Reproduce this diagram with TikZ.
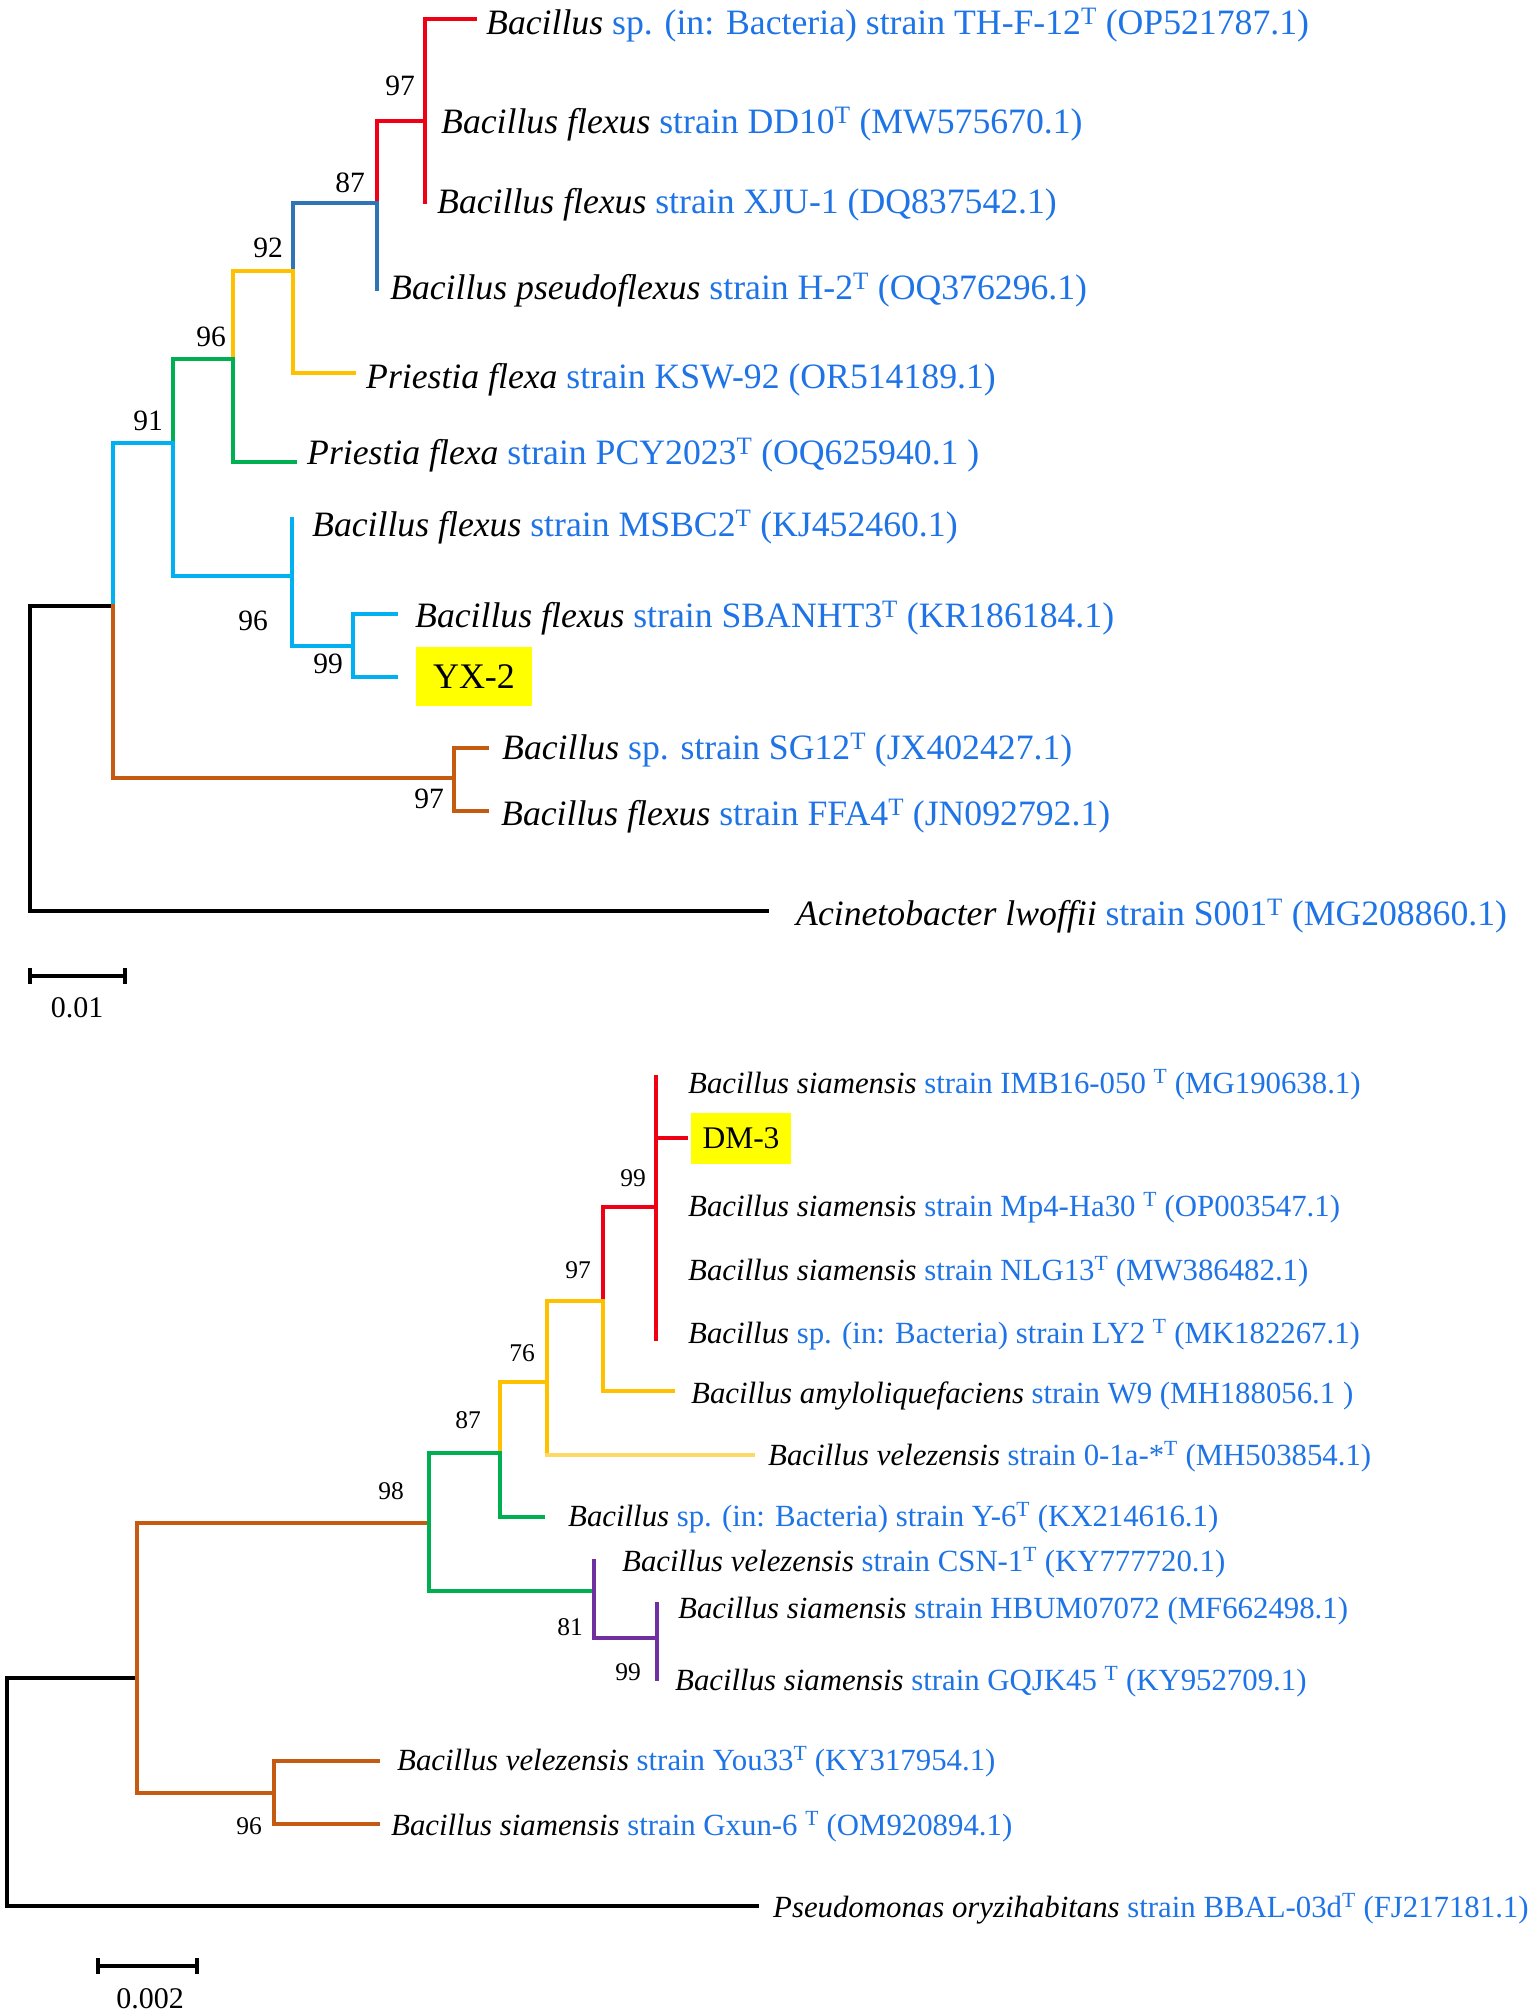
\documentclass[tikz,border=0pt]{standalone}
\usepackage{fontspec}
\setmainfont{Liberation Serif}
\definecolor{cRed}{RGB}{240,0,20}
\definecolor{cDBlue}{RGB}{46,117,182}
\definecolor{cGold}{RGB}{255,192,0}
\definecolor{cLGold}{RGB}{255,217,102}
\definecolor{cGreen}{RGB}{0,176,80}
\definecolor{cCyan}{RGB}{0,176,240}
\definecolor{cBrown}{RGB}{197,90,17}
\definecolor{cPurple}{RGB}{112,48,160}
\definecolor{tBlue}{RGB}{30,115,230}
\definecolor{hl}{RGB}{255,255,0}
\newcommand\tT{\textsuperscript{T}}
\newcommand\bl[1]{\textcolor{tBlue}{#1}}
\begin{document}
\begin{tikzpicture}[x=1pt,y=-1pt,
  br/.style={line width=3.2pt, line cap=rect},
  tlab/.style={anchor=base west, inner sep=0pt, font=\fontsize{35.7}{40}\selectfont},
  blab/.style={anchor=base west, inner sep=0pt, font=\fontsize{30.8}{36}\selectfont},
  tnum/.style={inner sep=0pt, font=\fontsize{29.5}{34}\selectfont},
  bnum/.style={inner sep=0pt, font=\fontsize{25.5}{30}\selectfont},
  hlbox/.style={fill=hl, inner sep=0pt},
  sbar/.style={line width=3.2pt}]
\useasboundingbox (0,0) rectangle (1535,2016);

% ---------------- TOP TREE ----------------
\coordinate (tRoot) at (30,758);
\coordinate (nA) at (113,606);
\coordinate (n91) at (173,443);
\coordinate (n96a) at (233,359);
\coordinate (n92) at (293,271);
\coordinate (n87) at (377,203);
\coordinate (n97) at (425,121);
\coordinate (lTH) at (475,19);
\coordinate (lXJU) at (425,202);
\coordinate (lPse) at (377,289);
\coordinate (lKSW) at (354,373);
\coordinate (lPCY) at (295,462);
\coordinate (n96b) at (292,576);
\coordinate (lMSB) at (292,519);
\coordinate (n99) at (353,646);
\coordinate (lSBA) at (396,614);
\coordinate (lYX) at (396,677);
\coordinate (n97o) at (454,778);
\coordinate (lSG) at (487,748);
\coordinate (lFFA) at (487,811);
\coordinate (lAcin) at (767,911);

\draw[br,black] (nA) -| (tRoot) |- (lAcin);
\draw[br,cCyan] (nA) |- (n91);
\draw[br,cBrown] (nA) |- (n97o);
\draw[br,cGreen] (n91) |- (n96a);
\draw[br,cCyan] (n91) |- (n96b);
\draw[br,cGold] (n96a) |- (n92);
\draw[br,cGreen] (n96a) |- (lPCY);
\draw[br,cDBlue] (n92) |- (n87);
\draw[br,cGold] (n92) |- (lKSW);
\draw[br,cRed] (n87) |- (n97);
\draw[br,cDBlue] (n87) -- (lPse);
\draw[br,cRed] (lTH) -| (n97) -- (lXJU);
\draw[br,cCyan] (lMSB) -- (n96b) |- (n99);
\draw[br,cCyan] (lSBA) -| (n99) |- (lYX);
\draw[br,cBrown] (lSG) -| (n97o) |- (lFFA);

\node[tlab] (tTH) at (486,34) {\textit{Bacillus} \bl{sp. (in: Bacteria) strain TH-F-12\tT{} (OP521787.1)}};
\node[tlab] (tDD) at (441,133) {\textit{Bacillus flexus} \bl{strain DD10\tT{} (MW575670.1)}};
\node[tlab] (tXJU) at (437,213) {\textit{Bacillus flexus} \bl{strain XJU-1 (DQ837542.1)}};
\node[tlab] (tPse) at (390,299) {\textit{Bacillus pseudoflexus} \bl{strain H-2\tT{} (OQ376296.1)}};
\node[tlab] (tKSW) at (366,388) {\textit{Priestia flexa} \bl{strain KSW-92 (OR514189.1)}};
\node[tlab] (tPCY) at (307,464) {\textit{Priestia flexa} \bl{strain PCY2023\tT{} (OQ625940.1 )}};
\node[tlab] (tMSB) at (312,536) {\textit{Bacillus flexus} \bl{strain MSBC2\tT{} (KJ452460.1)}};
\node[tlab] (tSBA) at (415,627) {\textit{Bacillus flexus} \bl{strain SBANHT3\tT{} (KR186184.1)}};
\node[hlbox, minimum width=116pt, minimum height=59pt, font=\fontsize{36}{40}\selectfont] (tYX) at (474,676.5) {YX-2};
\node[tlab] (tSG) at (502,759) {\textit{Bacillus} \bl{sp. strain SG12\tT{} (JX402427.1)}};
\node[tlab] (tFFA) at (501,825) {\textit{Bacillus flexus} \bl{strain FFA4\tT{} (JN092792.1)}};
\node[tlab] (tAcin) at (796,925) {\textit{Acinetobacter lwoffii} \bl{strain S001\tT{} (MG208860.1)}};

\node[tnum] (b97) at (400,86) {97};
\node[tnum] (b87) at (350,183) {87};
\node[tnum] (b92) at (268,248) {92};
\node[tnum] (b96a) at (211,337) {96};
\node[tnum] (b91) at (148,421) {91};
\node[tnum] (b96b) at (253,621) {96};
\node[tnum] (b99) at (328,664) {99};
\node[tnum] (b97o) at (429,799) {97};

% scale bar top
\coordinate (sa1) at (30,976);
\coordinate (sa2) at (125,976);
\draw[sbar] (sa1) -- (sa2);
\draw[sbar] ([yshift=-8pt]sa1) -- ([yshift=8pt]sa1);
\draw[sbar] ([yshift=-8pt]sa2) -- ([yshift=8pt]sa2);
\node[tnum, font=\fontsize{30}{34}\selectfont] (sal) at (77,1008) {0.01};

% ---------------- BOTTOM TREE ----------------
\coordinate (bRoot) at (7,1790);
\coordinate (nB) at (137,1678);
\coordinate (lPseu) at (757,1906);
\coordinate (n98) at (429,1523);
\coordinate (n96c) at (274,1793);
\coordinate (lYou) at (378,1761);
\coordinate (lGx) at (378,1824);
\coordinate (n87b) at (500,1453);
\coordinate (n81) at (594,1591);
\coordinate (n76) at (547,1382);
\coordinate (lY6) at (543,1517);
\coordinate (n97b) at (603,1301);
\coordinate (l01a) at (753,1455);
\coordinate (n99b) at (656,1207);
\coordinate (lW9) at (673,1391);
\coordinate (lIMB) at (656,1077);
\coordinate (lLY) at (656,1339);
\coordinate (lDM) at (686,1138);
\coordinate (lCSN) at (594,1561);
\coordinate (n99c) at (657,1638);
\coordinate (lHB) at (657,1604);
\coordinate (lGQ) at (657,1679);

\draw[br,black] (nB) -| (bRoot) |- (lPseu);
\draw[br,cBrown] (n98) -| (nB) |- (n96c);
\draw[br,cBrown] (lYou) -| (n96c) |- (lGx);
\draw[br,cGreen] (n87b) -| (n98) |- (n81);
\draw[br,cGold] (n87b) |- (n76);
\draw[br,cGreen] (n87b) |- (lY6);
\draw[br,cGold] (n76) |- (n97b);
\draw[br,cGold] (n76) -- (n76 |- l01a);
\draw[br,cLGold] (n76 |- l01a) -- (l01a);
\draw[br,cRed] (n97b) |- (n99b);
\draw[br,cGold] (n97b) |- (lW9);
\draw[br,cRed] (lIMB) -- (lLY);
\draw[br,cRed] (lIMB |- lDM) -- (lDM);
\draw[br,cPurple] (lCSN) -- (n81) |- (n99c);
\draw[br,cPurple] (lHB) -- (lGQ);

\node[blab] (tIMB) at (688,1093) {\textit{Bacillus siamensis} \bl{strain IMB16-050 \tT{} (MG190638.1)}};
\node[hlbox, minimum width=100pt, minimum height=51pt, font=\fontsize{31.5}{36}\selectfont] (tDM) at (741,1138.5) {DM-3};
\node[blab] (tMp4) at (688,1216) {\textit{Bacillus siamensis} \bl{strain Mp4-Ha30 \tT{} (OP003547.1)}};
\node[blab] (tNLG) at (688,1280) {\textit{Bacillus siamensis} \bl{strain NLG13\tT{} (MW386482.1)}};
\node[blab] (tLY) at (688,1343) {\textit{Bacillus} \bl{sp. (in: Bacteria) strain LY2 \tT{} (MK182267.1)}};
\node[blab] (tW9) at (691,1403) {\textit{Bacillus amyloliquefaciens} \bl{strain W9 (MH188056.1 )}};
\node[blab] (t01a) at (768,1465) {\textit{Bacillus velezensis} \bl{strain 0-1a-*\tT{} (MH503854.1)}};
\node[blab] (tY6) at (568,1526) {\textit{Bacillus} \bl{sp. (in: Bacteria) strain Y-6\tT{} (KX214616.1)}};
\node[blab] (tCSN) at (622,1571) {\textit{Bacillus velezensis} \bl{strain CSN-1\tT{} (KY777720.1)}};
\node[blab] (tHB) at (678,1618) {\textit{Bacillus siamensis} \bl{strain HBUM07072 (MF662498.1)}};
\node[blab] (tGQ) at (675,1690) {\textit{Bacillus siamensis} \bl{strain GQJK45 \tT{} (KY952709.1)}};
\node[blab] (tYou) at (397,1770) {\textit{Bacillus velezensis} \bl{strain You33\tT{} (KY317954.1)}};
\node[blab] (tGx) at (391,1835) {\textit{Bacillus siamensis} \bl{strain Gxun-6 \tT{} (OM920894.1)}};
\node[blab] (tPseu) at (773,1917) {\textit{Pseudomonas oryzihabitans} \bl{strain BBAL-03d\tT{} (FJ217181.1)}};

\node[bnum] (c99) at (633,1178) {99};
\node[bnum] (c97) at (578,1270) {97};
\node[bnum] (c76) at (522,1353) {76};
\node[bnum] (c87) at (468,1420) {87};
\node[bnum] (c98) at (391,1491) {98};
\node[bnum] (c81) at (570,1627) {81};
\node[bnum] (c99b) at (628,1672) {99};
\node[bnum] (c96) at (249,1826) {96};

% scale bar bottom
\coordinate (sb1) at (98,1966);
\coordinate (sb2) at (197,1966);
\draw[sbar] (sb1) -- (sb2);
\draw[sbar] ([yshift=-8pt]sb1) -- ([yshift=8pt]sb1);
\draw[sbar] ([yshift=-8pt]sb2) -- ([yshift=8pt]sb2);
\node[bnum, font=\fontsize{30}{34}\selectfont] (sbl) at (150,1999) {0.002};
\end{tikzpicture}
\end{document}
